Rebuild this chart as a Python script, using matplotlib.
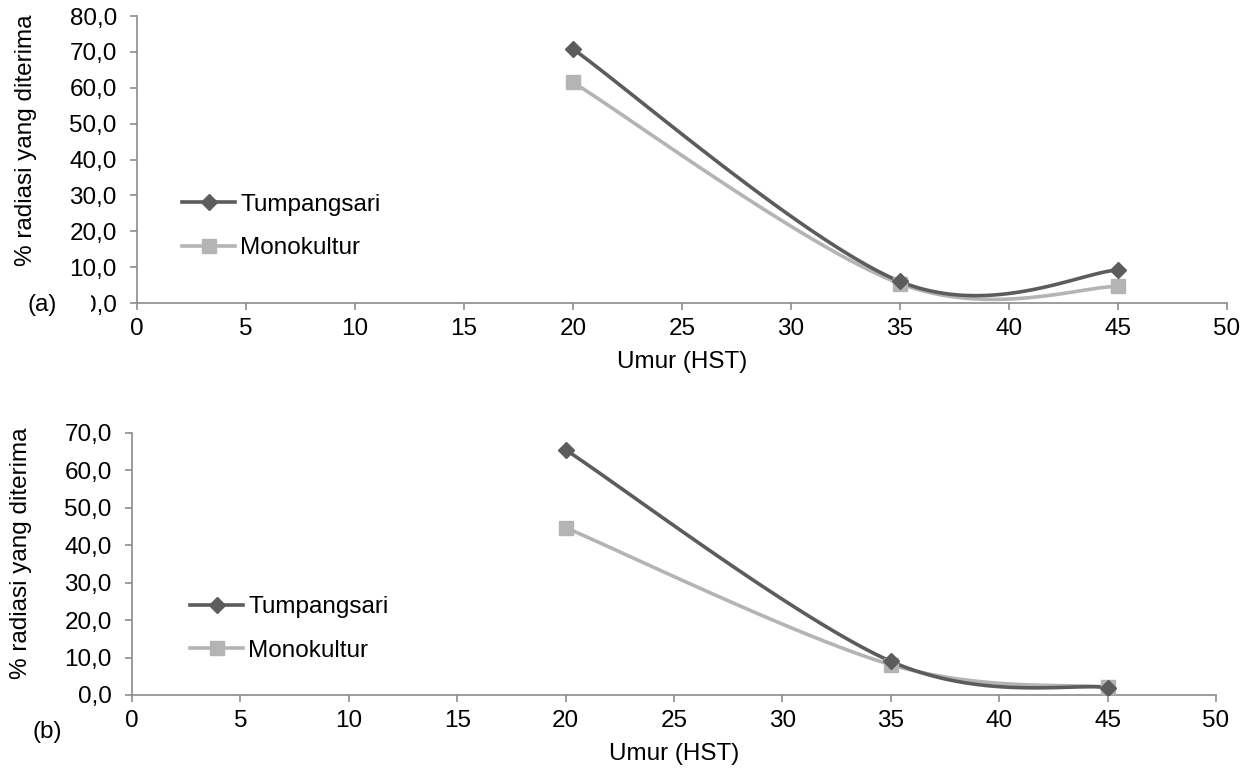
import numpy as np
import matplotlib.pyplot as plt
from matplotlib.transforms import Bbox, TransformedBbox

plt.rcParams['font.family'] = ['Liberation Sans', 'DejaVu Sans']

umur = [20, 35, 45]
# panel (a)
tump_a = [70.8, 6.0, 9.2]
mono_a = [61.5, 5.4, 4.6]
# panel (b)
tump_b = [65.5, 9.0, 2.0]
mono_b = [44.7, 8.1, 2.1]

c_tump = '#5c5c5c'
c_mono = '#b4b4b4'
c_axis = '#8c8c8c'

W, H = 1256, 769


def smooth(x, y, n=60):
    # excel-like smoothed line: cubic bezier, control points from neighbours
    P = np.column_stack([np.asarray(x, float), np.asarray(y, float)])
    out = []
    for i in range(len(P) - 1):
        p0 = P[i - 1] if i > 0 else P[i]
        p1 = P[i]
        p2 = P[i + 1]
        p3 = P[i + 2] if i + 2 < len(P) else P[i + 1]
        c1 = p1 + (p2 - p0) / 6
        c2 = p2 - (p3 - p1) / 6
        t = np.linspace(0, 1, n)[:, None]
        seg = ((1 - t) ** 3) * p1 + 3 * ((1 - t) ** 2) * t * c1 + 3 * (1 - t) * t ** 2 * c2 + t ** 3 * p2
        out.append(seg)
    s = np.vstack(out)
    return s[:, 0], s[:, 1]


fig = plt.figure(figsize=(W / 100, H / 100), dpi=100)
ax1 = fig.add_axes([137 / W, 1 - 303 / H, (1227 - 137) / W, (303 - 16) / H])
ax2 = fig.add_axes([132 / W, 1 - 695 / H, (1216 - 132) / W, (695 - 433) / H])

fs = 17.5


def draw(ax, tump, mono, ymax, leg_x, leg_y, ylab_xy, xlab_y):
    for y, c, m, ms in [(mono, c_mono, 's', 10), (tump, c_tump, 'D', 8.5)]:
        sx, sy = smooth(umur, y)
        ax.plot(sx, sy, color=c, lw=2.6, solid_capstyle='round', zorder=2)
        ax.plot(umur, y, ls='none', marker=m, ms=ms, color=c, zorder=3)
    h1, = ax.plot([], [], color=c_tump, lw=2.6, marker='D', ms=8.5)
    h2, = ax.plot([], [], color=c_mono, lw=2.6, marker='s', ms=10)
    fig.legend([h1, h2], ['Tumpangsari', 'Monokultur'], loc='center left',
               bbox_to_anchor=(leg_x / W, 1 - leg_y / H), frameon=False, fontsize=fs,
               handlelength=2.2, handletextpad=0.2, labelspacing=0.9,
               borderpad=0, borderaxespad=0)
    ax.set_xlim(0, 50)
    ax.set_ylim(0, ymax)
    ax.set_xticks(np.arange(0, 51, 5))
    ax.set_yticks(np.arange(0, ymax + 1, 10))
    ax.set_yticklabels([f'{v:.1f}'.replace('.', ',') for v in np.arange(0, ymax + 1, 10)])
    for s in ['top', 'right']:
        ax.spines[s].set_visible(False)
    for s in ['left', 'bottom']:
        ax.spines[s].set_color(c_axis)
        ax.spines[s].set_linewidth(1.2)
    ax.tick_params(direction='out', length=5, width=1.2, color=c_axis, labelsize=fs)
    ax.tick_params(axis='x', pad=6)
    ax.tick_params(axis='y', pad=9.5)
    ax.set_xlabel('Umur (HST)', fontsize=fs)
    ax.set_ylabel('% radiasi yang diterima', fontsize=fs)
    ax.yaxis.set_label_coords(*ylab_xy)
    ax.xaxis.set_label_coords(0.5, xlab_y)


draw(ax1, tump_a, mono_a, 80, 182, 226.5, (-0.092, 0.568), -0.167)
draw(ax2, tump_b, mono_b, 70, 190, 629, (-0.092, 0.542), -0.183)

fig.text(28 / W, 1 - 305 / H, '(a)', fontsize=fs, va='center', ha='left')
fig.text(33 / W, 1 - 732 / H, '(b)', fontsize=fs, va='center', ha='left')

# the lowest label of panel (a) is partly hidden in the original
fig.canvas.draw()
lbl = ax1.get_yticklabels()[0]
lbl.set_clip_box(TransformedBbox(Bbox([[91 / W, 0], [1, 1]]), fig.transFigure))

fig.savefig('out.png', dpi=100)
